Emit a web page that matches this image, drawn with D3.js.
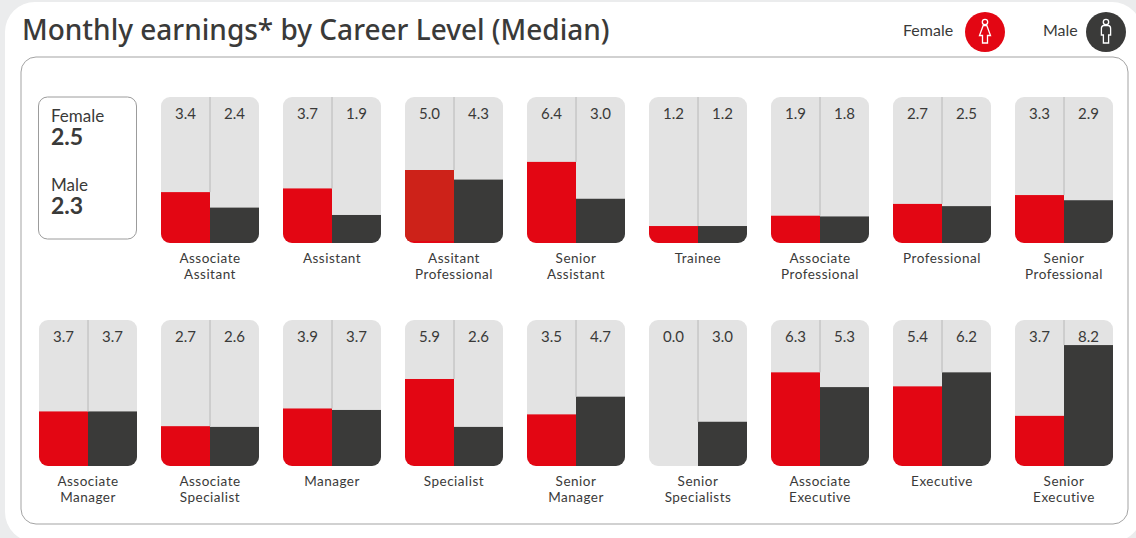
<!DOCTYPE html>
<html>
<head>
<meta charset="utf-8">
<script src="https://cdnjs.cloudflare.com/ajax/libs/d3/7.8.5/d3.min.js"></script>
<style>
html, body { margin: 0; padding: 0; background: #ebeced; overflow: hidden; }
text { font-family: Lato, "Open Sans", sans-serif; fill: #3a3a39; }
</style>
</head>
<body>
<div id="chart"></div>
<script>
var rowOne = ["Associate Assitant", "Assistant", "Assitant Professional", "Senior Assistant", "Trainee", "Associate Professional", "Professional", "Senior Professional"];
var rowTwo = ["Associate Manager", "Associate Specialist", "Manager", "Specialist", "Senior Manager", "Senior Specialists", "Associate Executive", "Executive", "Senior Executive"];

// printed figures
var femaleLabels = ["3.4", "3.7", "5.0", "6.4", "1.2", "1.9", "2.7", "3.3", "3.7", "2.7", "3.9", "5.9", "3.5", "0.0", "6.3", "5.4", "3.7"];
var maleLabels = ["2.4", "1.9", "4.3", "3.0", "1.2", "1.8", "2.5", "2.9", "3.7", "2.6", "3.7", "2.6", "4.7", "3.0", "5.3", "6.2", "8.2"];

// bar lengths as drawn in the picture, which differ from the printed figure in a few places
var femaleBars = [3.45, 3.7, 4.95, 5.5, 1.15, 1.85, 2.65, 3.25, 3.7, 2.7, 3.9, 5.9, 3.5, 0, 6.35, 5.4, 3.4];
var maleBars = [2.4, 1.9, 4.3, 3.0, 1.15, 1.8, 2.5, 2.9, 3.7, 2.65, 3.8, 2.65, 4.7, 3.0, 5.35, 6.35, 8.2];

var averageNames = ["Female", "Male"];
var averageValues = ["2.5", "2.3"];

var red = "#e30613", dark = "#3a3a39";

var width = 1136, height = 538;

var svg = d3.select("#chart").append("svg")
    .attr("width", width)
    .attr("height", height)
    .style("display", "block");

// card and frame
svg.append("rect").attr("x", 5).attr("y", 2).attr("width", 1137).attr("height", 540).attr("rx", 30)
    .attr("fill", "#fff");
svg.append("rect").attr("x", 21).attr("y", 57).attr("width", 1107).attr("height", 467).attr("rx", 15)
    .attr("fill", "#fff").attr("stroke", "#a3a3a3").attr("stroke-width", 1);

svg.append("text").attr("x", 22).attr("y", 40)
    .style("font-family", "'Noto Sans', sans-serif")
    .style("font-size", "28px").style("font-weight", 500)
    .text("Monthly earnings* by Career Level (Median)");

// legend
function person(g, female) {
    g.append("circle").attr("r", 20).attr("fill", female ? red : dark);
    g.append("circle").attr("cy", -10).attr("r", 2.7).attr("fill", "none").attr("stroke", "#fff").attr("stroke-width", 1.3);
    var body = female
        ? "M-1.8,-6.5 L1.8,-6.5 L5.5,3.5 L2.5,3.5 L2.5,11 L-2.5,11 L-2.5,3.5 L-5.5,3.5 Z"
        : "M-2.5,-6.5 L2.5,-6.5 Q4.6,-6 4.6,-3.5 L4.6,3 L2.6,3 L2.6,11 L-2.6,11 L-2.6,3 L-4.6,3 L-4.6,-3.5 Q-4.6,-6 -2.5,-6.5 Z";
    g.append("path").attr("d", body).attr("fill", "none").attr("stroke", "#fff").attr("stroke-width", 1.3);
}
svg.append("text").attr("x", 903).attr("y", 36).style("font-size", "16px").text("Female");
svg.append("text").attr("x", 1043).attr("y", 36).style("font-size", "16px").text("Male");
person(svg.append("g").attr("transform", "translate(985,32)"), true);
person(svg.append("g").attr("transform", "translate(1106,32)"), false);

// overall median box
svg.append("rect").attr("x", 38.5).attr("y", 97).attr("width", 98).attr("height", 142).attr("rx", 9)
    .attr("fill", "#fff").attr("stroke", "#9c9c9c");
averageNames.forEach(function(name, i) {
    var top = 122 + i * 69;
    svg.append("text").attr("x", 51).attr("y", top).style("font-size", "17px").text(name);
    svg.append("text").attr("x", 51).attr("y", top + 23).style("font-size", "23px").style("font-weight", 700).text(averageValues[i]);
});

// small multiples
var panelW = 98, panelH = 146, pitch = 122;
var y = d3.scaleLinear().domain([0, 9.9]).range([panelH, 0]);
var x = d3.scaleBand().domain(["female", "male"]).range([0, panelW]);

var cells = rowOne.map(function(name, i) {
    return { name: name, left: 161 + i * pitch, top: 97, i: i };
}).concat(rowTwo.map(function(name, i) {
    return { name: name, left: 39 + i * pitch, top: 320, i: i + rowOne.length };
}));

var defs = svg.append("defs");
defs.append("clipPath").attr("id", "panel-clip").append("rect")
    .attr("width", panelW).attr("height", panelH).attr("rx", 9);

var cell = svg.selectAll(".cell")
    .data(cells)
    .enter().append("g")
    .attr("class", "cell")
    .attr("transform", function(d) { return "translate(" + d.left + "," + d.top + ")"; });

var inner = cell.append("g").attr("clip-path", "url(#panel-clip)");

inner.append("rect").attr("width", panelW).attr("height", panelH).attr("fill", "#e3e3e3");

inner.append("rect")
    .attr("x", x("female")).attr("width", x.bandwidth())
    .attr("y", function(d) { return y(femaleBars[d.i]); })
    .attr("height", function(d) { return panelH - y(femaleBars[d.i]); })
    .attr("fill", red);

// the Assitant Professional bar is a duller red with a thin bright edge at its foot
inner.filter(function(d) { return d.name === "Assitant Professional"; })
    .append("rect")
    .attr("x", x("female")).attr("width", x.bandwidth())
    .attr("y", function(d) { return y(femaleBars[d.i]); })
    .attr("height", function(d) { return panelH - y(femaleBars[d.i]) - 2; })
    .attr("fill", "#cd2219");

inner.append("rect")
    .attr("x", x("male")).attr("width", x.bandwidth())
    .attr("y", function(d) { return y(maleBars[d.i]); })
    .attr("height", function(d) { return panelH - y(maleBars[d.i]); })
    .attr("fill", dark);

inner.append("line")
    .attr("x1", x("male")).attr("x2", x("male"))
    .attr("y1", 0)
    .attr("y2", function(d) { return y(Math.max(femaleBars[d.i], maleBars[d.i])); })
    .attr("stroke", "#b8b8b8");

cell.append("text")
    .attr("x", x("female") + x.bandwidth() / 2).attr("y", 22)
    .attr("text-anchor", "middle").style("font-size", "15px")
    .text(function(d) { return femaleLabels[d.i]; });
cell.append("text")
    .attr("x", x("male") + x.bandwidth() / 2).attr("y", 22)
    .attr("text-anchor", "middle").style("font-size", "15px")
    .text(function(d) { return maleLabels[d.i]; });

cell.each(function(d) {
    var words = d.name.split(" ");
    var g = d3.select(this);
    words.forEach(function(w, k) {
        g.append("text")
            .attr("x", panelW / 2).attr("y", panelH + 20 + k * 16)
            .attr("text-anchor", "middle")
            .style("font-size", "13.5px").style("letter-spacing", "0.5px")
            .text(w);
    });
});
</script>
</body>
</html>
